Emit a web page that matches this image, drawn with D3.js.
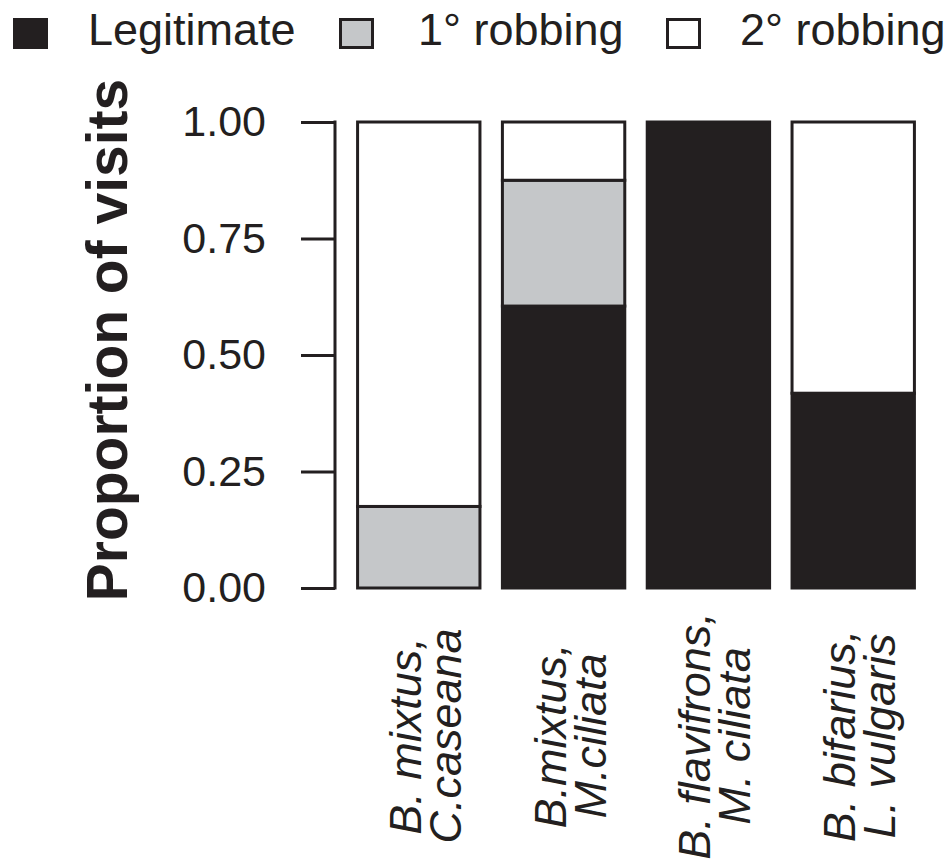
<!DOCTYPE html>
<html>
<head>
<meta charset="utf-8">
<script src="https://cdn.jsdelivr.net/npm/d3@7"></script>
<style>
  html, body { margin: 0; padding: 0; background: #fff; }
  svg { display: block; }
  text { font-family: "Liberation Sans", Arial, Helvetica, sans-serif; fill: #231f20; }
</style>
</head>
<body>
<svg id="chart" width="952" height="862"></svg>
<script>
// Visit types (stack order bottom to top)
const visitTypes = ["Legitimate", "1° robbing", "2° robbing"];
const typeColors = ["#231f20", "#c5c7c9", "#ffffff"];

// Bee / plant pairings, each label in two lines
const pairLine1 = ["B. mixtus,", "B.mixtus,", "B. flavifrons,", "B. bifarius,"];
const pairLine2 = ["C.caseana", "M.ciliata", "M. ciliata", "L. vulgaris"];

// Proportion of visits per pairing
const legitimate = [0.000, 0.605, 1.000, 0.418];
const primaryRobbing = [0.175, 0.270, 0.000, 0.000];
const secondaryRobbing = [0.825, 0.125, 0.000, 0.582];

const yTicks = [0, 0.25, 0.5, 0.75, 1.0];

const svg = d3.select("#chart");
const ink = "#231f20";

const x = d3.scaleBand()
  .domain(d3.range(pairLine1.length))
  .range([346, 926])
  .paddingInner(0.155)
  .paddingOuter(0.08);

const y = d3.scaleLinear().domain([0, 1]).range([588, 122]);

// Stacked layout
const rows = pairLine1.map((d, i) => ({
  i,
  "Legitimate": legitimate[i],
  "1° robbing": primaryRobbing[i],
  "2° robbing": secondaryRobbing[i]
}));
const stacked = d3.stack().keys(visitTypes)(rows);

const bars = svg.append("g");
stacked.forEach((layer, k) => {
  bars.selectAll(null)
    .data(layer.filter(d => d[1] - d[0] > 0))
    .join("rect")
    .attr("x", d => x(d.data.i))
    .attr("width", x.bandwidth())
    .attr("y", d => y(d[1]))
    .attr("height", d => y(d[0]) - y(d[1]))
    .attr("fill", typeColors[k])
    .attr("stroke", ink)
    .attr("stroke-width", 3);
});

// Y axis
const yAxis = d3.axisLeft(y)
  .tickValues(yTicks)
  .tickFormat(d3.format(".2f"))
  .tickSize(34)
  .tickPadding(35);

const gy = svg.append("g")
  .attr("transform", "translate(335,0)")
  .call(yAxis);
gy.select(".domain").remove();
gy.append("line")
  .attr("x1", 0).attr("x2", 0)
  .attr("y1", y(1) - 1.5).attr("y2", y(0) + 1.5)
  .attr("stroke", ink).attr("stroke-width", 3);
gy.selectAll(".tick line").attr("stroke", ink).attr("stroke-width", 3);
gy.selectAll(".tick text")
  .attr("fill", ink)
  .style("font-size", "43px")
  .style("font-family", "'Liberation Sans', Arial, sans-serif");

// Y axis title
svg.append("text")
  .attr("transform", `translate(127,${(y(0) + y(1)) / 2 - 15}) rotate(-90)`)
  .attr("text-anchor", "middle")
  .style("font-size", "57px")
  .style("font-weight", "bold")
  .text("Proportion of visits");

// Category labels, rotated, two lines each
const lab = svg.append("g").selectAll("g")
  .data(pairLine1)
  .join("g")
  .attr("transform", (d, i) => `translate(${x(i) + x.bandwidth() / 2},736) rotate(-90)`);
lab.append("text")
  .attr("text-anchor", "middle")
  .attr("y", 2)
  .style("font-size", "45px")
  .style("font-style", "italic")
  .text(d => d);
lab.append("text")
  .attr("text-anchor", "middle")
  .attr("y", 42)
  .style("font-size", "45px")
  .style("font-style", "italic")
  .text((d, i) => pairLine2[i]);

// Legend
const legendX = [13, 339, 666];
const leg = svg.append("g").selectAll("g")
  .data(visitTypes)
  .join("g")
  .attr("transform", (d, i) => `translate(${legendX[i]},0)`);
leg.append("rect")
  .attr("x", 1.5).attr("y", 19.5)
  .attr("width", 32).attr("height", 28)
  .attr("fill", (d, i) => typeColors[i])
  .attr("stroke", ink)
  .attr("stroke-width", 3);
leg.append("text")
  .attr("x", (d, i) => [75, 79, 74][i])
  .attr("y", 45)
  .style("font-size", "45px")
  .text(d => d);
</script>
</body>
</html>
